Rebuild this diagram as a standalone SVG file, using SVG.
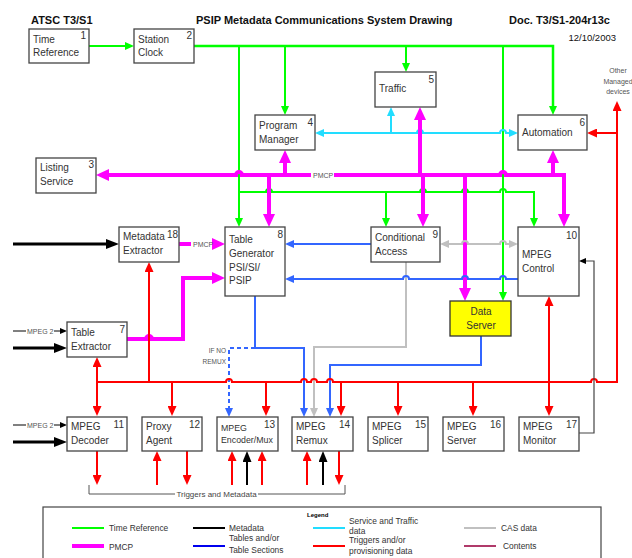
<svg xmlns="http://www.w3.org/2000/svg" width="632" height="558" viewBox="0 0 632 558">
<style>
text{font-family:"Liberation Sans",Arial,sans-serif;fill:#333}
.t{font-size:10px}
.s{font-size:8.8px}
.n{font-size:10px;text-anchor:end}
.sm{font-size:7px;fill:#555}
.lg{font-size:8.4px}
.h{font-size:11px;font-weight:bold;fill:#111}
.box{fill:#fff;stroke:#444;stroke-width:1.3}
.g{stroke:#00ff00;stroke-width:2;fill:none}
.m{stroke:#ff00ff;stroke-width:4;fill:none}
.c{stroke:#22ddff;stroke-width:2;fill:none}
.b{stroke:#3366ff;stroke-width:2;fill:none}
.r{stroke:#ff0000;stroke-width:2;fill:none}
.gr{stroke:#c0c0c0;stroke-width:2;fill:none}
.k{stroke:#000;stroke-width:3;fill:none}
.k1{stroke:#000;stroke-width:1;fill:none}
.kd{stroke:#444;stroke-width:1.2;fill:none}
.br{stroke:#555;stroke-width:1;fill:none}
</style>
<defs>
<marker id="aG" markerUnits="userSpaceOnUse" markerWidth="9" markerHeight="8" refX="1" refY="4" orient="auto-start-reverse"><path d="M0,0L9,4L0,8z" fill="#00ff00"/></marker>
<marker id="aM" markerUnits="userSpaceOnUse" markerWidth="13" markerHeight="12" refX="1" refY="6" orient="auto-start-reverse"><path d="M0,0L13,6L0,12z" fill="#ff00ff"/></marker>
<marker id="aC" markerUnits="userSpaceOnUse" markerWidth="9" markerHeight="8" refX="1" refY="4" orient="auto-start-reverse"><path d="M0,0L9,4L0,8z" fill="#22ddff"/></marker>
<marker id="aB" markerUnits="userSpaceOnUse" markerWidth="9" markerHeight="8" refX="1" refY="4" orient="auto-start-reverse"><path d="M0,0L9,4L0,8z" fill="#3366ff"/></marker>
<marker id="aGr" markerUnits="userSpaceOnUse" markerWidth="9" markerHeight="8" refX="1" refY="4" orient="auto-start-reverse"><path d="M0,0L9,4L0,8z" fill="#c0c0c0"/></marker>
<marker id="aR" markerUnits="userSpaceOnUse" markerWidth="10" markerHeight="9" refX="1" refY="4.5" orient="auto-start-reverse"><path d="M0,0L10,4.5L0,9z" fill="#ff0000"/></marker>
<marker id="aK" markerUnits="userSpaceOnUse" markerWidth="13" markerHeight="10" refX="1" refY="5" orient="auto"><path d="M0,0L13,5L0,10z" fill="#000"/></marker>
<marker id="aK2" markerUnits="userSpaceOnUse" markerWidth="11" markerHeight="9" refX="1" refY="4.5" orient="auto"><path d="M0,0L11,4.5L0,9z" fill="#000"/></marker>
<marker id="aKs" markerUnits="userSpaceOnUse" markerWidth="7" markerHeight="6" refX="1" refY="3" orient="auto"><path d="M0,0L7,3L0,6z" fill="#000"/></marker>
</defs>
<rect width="632" height="558" fill="#fff"/>

<g id="header">
<text class="h" x="31" y="24">ATSC T3/S1</text>
<text class="h" x="196" y="24">PSIP Metadata Communications System Drawing</text>
<text class="h" x="509" y="24">Doc. T3/S1-204r13c</text>
<text x="616" y="41" style="font-size:9.5px;text-anchor:end;fill:#111">12/10/2003</text>
</g>

<g id="connectors">
<!-- green -->
<path class="g" d="M89 46H126" marker-end="url(#aG)"/>
<path class="g" style="stroke-width:2.5" d="M194 46H553V107" marker-end="url(#aG)"/>
<path class="g" d="M239 46V219" marker-end="url(#aG)"/>
<path class="g" d="M285 46V107" marker-end="url(#aG)"/>
<path class="g" d="M406 46V64" marker-end="url(#aG)"/>
<path class="g" d="M503 46V293" marker-end="url(#aG)"/>
<path class="g" d="M239 192H266a3 3 0 0 1 6 0H420a3 3 0 0 1 6 0H462a3 3 0 0 1 6 0H500a3 3 0 0 1 6 0H534V219" marker-end="url(#aG)"/>
<path class="g" d="M386 192V219" marker-end="url(#aG)"/>
<!-- cyan -->
<path class="c" d="M323 133H417a3 3 0 0 1 6 0H500a3 3 0 0 1 6 0H510" marker-start="url(#aC)" marker-end="url(#aC)"/>
<path class="c" d="M391 133V115" marker-end="url(#aC)"/>
<!-- magenta PMCP -->
<path class="m" d="M311 175H242a3 3 0 0 0 -6 0H108" marker-end="url(#aM)"/>
<path class="m" d="M334 175H500a3 3 0 0 1 6 0H564V215" marker-end="url(#aM)"/>
<path class="m" d="M285 175V162" marker-end="url(#aM)"/>
<path class="m" d="M420 175V119" marker-end="url(#aM)"/>
<path class="m" d="M553 175V162" marker-end="url(#aM)"/>
<path class="m" d="M269 175V215" marker-end="url(#aM)"/>
<path class="m" d="M423 175V215" marker-end="url(#aM)"/>
<path class="m" d="M465 175V289" marker-end="url(#aM)"/>
<text class="sm" x="313" y="178">PMCP</text>
<path class="m" d="M179 244H191"/>
<path class="m" d="M212 244H213" marker-end="url(#aM)"/>
<text class="sm" x="193" y="247">PMCP</text>
<path class="m" d="M127 339H146a3 3 0 0 1 6 0H183V278H213" marker-end="url(#aM)"/>
<!-- gray CAS -->
<path class="gr" d="M448 244H462a3 3 0 0 1 6 0H500a3 3 0 0 1 6 0H510" marker-start="url(#aGr)" marker-end="url(#aGr)"/>
<path class="gr" d="M406 262V347H314V409" marker-end="url(#aGr)"/>
<!-- blue -->
<path class="b" d="M371 244H293" marker-end="url(#aB)"/>
<path class="b" d="M518 279H506a3 3 0 0 0 -6 0H468a3 3 0 0 0 -6 0H409a3 3 0 0 0 -6 0H293" marker-end="url(#aB)"/>
<path class="b" d="M255 296V348H304V409" marker-end="url(#aB)"/>
<path class="b" d="M255 348H229V409" stroke-dasharray="4 3" marker-end="url(#aB)"/>
<path class="b" d="M481 336V365H330V409" marker-end="url(#aB)"/>
<text class="sm" x="226" y="353" style="font-size:6.5px;text-anchor:end">IF NO</text>
<text class="sm" x="226" y="364" style="font-size:6.5px;text-anchor:end">REMUX</text>
<!-- red -->
<path class="r" d="M97 382H226a3 3 0 0 1 6 0H301a3 3 0 0 1 6 0H311a3 3 0 0 1 6 0H327a3 3 0 0 1 6 0H591a3 3 0 0 1 6 0H617V110" marker-end="url(#aR)"/>
<path class="r" d="M617 133H596" marker-end="url(#aR)"/>
<path class="r" d="M97 382V366" marker-end="url(#aR)"/>
<path class="r" d="M149 382V271" marker-end="url(#aR)"/>
<path class="r" d="M549 382V305" marker-end="url(#aR)"/>
<path class="r" d="M97 382V407" marker-end="url(#aR)"/>
<path class="r" d="M172 382V407" marker-end="url(#aR)"/>
<path class="r" d="M266 382V407" marker-end="url(#aR)"/>
<path class="r" d="M341 382V407" marker-end="url(#aR)"/>
<path class="r" d="M398 382V407" marker-end="url(#aR)"/>
<path class="r" d="M473 382V407" marker-end="url(#aR)"/>
<path class="r" d="M549 382V407" marker-end="url(#aR)"/>
<path class="r" d="M97 451V476" marker-end="url(#aR)"/>
<path class="r" d="M157 485V460" marker-end="url(#aR)"/>
<path class="r" d="M187 451V476" marker-end="url(#aR)"/>
<path class="r" d="M232 485V460" marker-end="url(#aR)"/>
<path class="r" d="M262 485V460" marker-end="url(#aR)"/>
<path class="r" d="M307 485V460" marker-end="url(#aR)"/>
<path class="r" d="M339 451V476" marker-end="url(#aR)"/>
<text class="sm" x="618" y="73" style="text-anchor:middle">Other</text>
<text class="sm" x="618" y="84" style="text-anchor:middle">Managed</text>
<text class="sm" x="618" y="94" style="text-anchor:middle">devices</text>
<!-- black metadata -->
<path class="k" d="M13 244H107" marker-end="url(#aK)"/>
<path class="k" d="M13 348H55" marker-end="url(#aK)"/>
<path class="k" d="M13 442H55" marker-end="url(#aK)"/>
<path class="k" style="stroke-width:2" d="M247 485V461" marker-end="url(#aK2)"/>
<path class="k" style="stroke-width:2" d="M323 485V461" marker-end="url(#aK2)"/>
<path class="k1" d="M13 331H26"/>
<path class="k1" d="M54 331H61" marker-end="url(#aKs)"/>
<text class="sm" x="27" y="333.5">MPEG 2</text>
<path class="k1" d="M13 425H26"/>
<path class="k1" d="M54 425H61" marker-end="url(#aKs)"/>
<text class="sm" x="27" y="427.5">MPEG 2</text>
<path class="kd" d="M579 433H594V261H585" marker-end="url(#aKs)"/>
<!-- bracket -->
<path class="br" d="M89 485V494H175M258 494H345V485"/>
<text x="216.5" y="497" style="font-size:8px;text-anchor:middle;fill:#444">Triggers and Metadata</text>
</g>

<g id="n1"><rect class="box" x="29" y="29" width="60" height="34"/><text class="t" x="33" y="43">Time</text><text class="t" x="33" y="56">Reference</text><text class="n" x="86" y="39">1</text></g>
<g id="n2"><rect class="box" x="134" y="29" width="60" height="34"/><text class="t" x="138" y="43">Station</text><text class="t" x="138" y="56">Clock</text><text class="n" x="192" y="39">2</text></g>
<g id="n3"><rect class="box" x="36" y="158" width="60" height="35"/><text class="t" x="40" y="171">Listing</text><text class="t" x="40" y="185">Service</text><text class="n" x="94" y="168">3</text></g>
<g id="n4"><rect class="box" x="255" y="115" width="60" height="35"/><text class="t" x="259" y="129">Program</text><text class="t" x="259" y="143">Manager</text><text class="n" x="313" y="126">4</text></g>
<g id="n5"><rect class="box" x="375" y="72" width="61" height="35"/><text class="t" x="379" y="92">Traffic</text><text class="n" x="434" y="83">5</text></g>
<g id="n6"><rect class="box" x="518" y="115" width="69" height="35"/><text class="t" x="522" y="136">Automation</text><text class="n" x="585" y="126">6</text></g>
<g id="n18"><rect class="box" x="119" y="227" width="60" height="35"/><text class="t" x="123" y="240">Metadata</text><text class="t" x="123" y="254">Extractor</text><text class="n" x="178" y="238">18</text></g>
<g id="n8"><rect class="box" x="225" y="227" width="60" height="69"/><text class="t" x="229" y="243">Table</text><text class="t" x="229" y="257">Generator</text><text class="t" x="229" y="271">PSI/SI/</text><text class="t" x="229" y="284">PSIP</text><text class="n" x="283" y="238">8</text></g>
<g id="n9"><rect class="box" x="371" y="227" width="69" height="35"/><text class="t" x="375" y="241">Conditional</text><text class="t" x="375" y="255">Access</text><text class="n" x="438" y="238">9</text></g>
<g id="n10"><rect class="box" x="518" y="227" width="61" height="69"/><text class="t" x="522" y="258">MPEG</text><text class="t" x="522" y="272">Control</text><text class="n" x="577" y="239">10</text></g>
<g id="nDS"><rect class="box" x="450" y="301" width="61" height="35" style="fill:#ffff00;stroke:#333"/><text class="t" x="481" y="315" text-anchor="middle">Data</text><text class="t" x="481" y="329" text-anchor="middle">Server</text></g>
<g id="n7"><rect class="box" x="67" y="322" width="60" height="35"/><text class="t" x="71" y="336">Table</text><text class="t" x="71" y="350">Extractor</text><text class="n" x="125" y="333">7</text></g>
<g id="n11"><rect class="box" x="67" y="417" width="60" height="34"/><text class="t" x="71" y="430">MPEG</text><text class="t" x="71" y="444">Decoder</text><text class="n" x="124" y="428">11</text></g>
<g id="n12"><rect class="box" x="142" y="417" width="60" height="34"/><text class="t" x="146" y="430">Proxy</text><text class="t" x="146" y="444">Agent</text><text class="n" x="200" y="428">12</text></g>
<g id="n13"><rect class="box" x="217" y="417" width="61" height="34"/><text class="s" x="221" y="431">MPEG</text><text class="s" x="221" y="443">Encoder/Mux</text><text class="n" x="275" y="428">13</text></g>
<g id="n14"><rect class="box" x="292" y="417" width="61" height="34"/><text class="t" x="296" y="430">MPEG</text><text class="t" x="296" y="444">Remux</text><text class="n" x="350" y="428">14</text></g>
<g id="n15"><rect class="box" x="368" y="417" width="60" height="34"/><text class="t" x="372" y="430">MPEG</text><text class="t" x="372" y="444">Splicer</text><text class="n" x="426" y="428">15</text></g>
<g id="n16"><rect class="box" x="443" y="417" width="61" height="34"/><text class="t" x="447" y="430">MPEG</text><text class="t" x="447" y="444">Server</text><text class="n" x="501" y="428">16</text></g>
<g id="n17"><rect class="box" x="519" y="417" width="60" height="34"/><text class="t" x="523" y="430">MPEG</text><text class="t" x="523" y="444">Monitor</text><text class="n" x="577" y="428">17</text></g>

<g id="legend">
<rect x="43" y="507" width="558" height="60" fill="#fff" stroke="#444" stroke-width="1.2"/>
<text x="307" y="517" style="font-size:6px;font-weight:bold;fill:#000">Legend</text>
<path class="g" d="M72 528H104"/><text class="lg" x="109" y="531">Time Reference</text>
<path class="k" style="stroke-width:2" d="M193 528H225"/><text class="lg" x="229" y="531">Metadata</text>
<path class="c" d="M313 528H345"/><text class="lg" x="349" y="524">Service and Traffic</text><text class="lg" x="349" y="533.5">data</text>
<path class="gr" d="M464 528H496"/><text class="lg" x="501" y="531">CAS data</text>
<path class="m" d="M72 546H104"/><text class="lg" x="109" y="550">PMCP</text>
<path class="b" style="stroke:#0000ee" d="M193 546H225"/><text class="lg" x="229" y="541">Tables and/or</text><text class="lg" x="229" y="553">Table Sections</text>
<path class="r" d="M313 546H345"/><text class="lg" x="349" y="543">Triggers and/or</text><text class="lg" x="349" y="554">provisioning data</text>
<path d="M464 546H496" stroke="#b03a6a" stroke-width="2"/><text class="lg" x="503" y="549">Contents</text>
</g>
</svg>
